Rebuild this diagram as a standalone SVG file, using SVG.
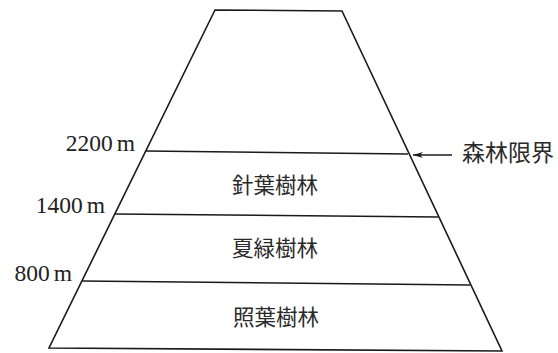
<svg xmlns="http://www.w3.org/2000/svg" width="558" height="353" viewBox="0 0 558 353">
<defs>
<style>
.ln{stroke:#1a1a1a;stroke-width:1.6;fill:none;stroke-linejoin:miter}
.alt{font-family:"Liberation Serif","DejaVu Serif",serif;font-size:23.5px;fill:#222;text-anchor:end}
.zone{font-family:"Noto Sans CJK JP","Noto Sans CJK SC",sans-serif;font-size:21.5px;fill:#2a2a2a;text-anchor:middle}
.note{font-family:"Noto Sans CJK JP","Noto Sans CJK SC",sans-serif;font-size:23px;fill:#2a2a2a}
</style>
<marker id="ah" viewBox="0 0 10 6" refX="10" refY="3" markerWidth="10" markerHeight="6" markerUnits="userSpaceOnUse" orient="auto">
<path d="M0,0 L10,3 L0,6 L3,3 Z" fill="#1a1a1a"/>
</marker>
</defs>
<rect width="558" height="353" fill="#fff"/>
<g id="mountain">
<path class="ln" d="M215,10 L342,11 L502,351 L49,348 Z"/>
</g>
<g id="connectors">
<line class="ln" x1="146" y1="151" x2="408" y2="154"/>
<line class="ln" x1="115" y1="214" x2="438" y2="217"/>
<line class="ln" x1="82" y1="281" x2="470" y2="285"/>
<line x1="452" y1="155" x2="413" y2="155" stroke="#1a1a1a" stroke-width="1.3" marker-end="url(#ah)"/>
</g>
<g id="alt-2200"><text class="alt" x="135" y="151">2200<tspan dx="4">m</tspan></text></g>
<g id="alt-1400"><text class="alt" x="105" y="213">1400<tspan dx="4">m</tspan></text></g>
<g id="alt-800"><text class="alt" x="72" y="281">800<tspan dx="4">m</tspan></text></g>
<g id="zone-conifer"><text class="zone" x="275" y="193">針葉樹林</text></g>
<g id="zone-deciduous"><text class="zone" x="275" y="256">夏緑樹林</text></g>
<g id="zone-evergreen"><text class="zone" x="276" y="325">照葉樹林</text></g>
<g id="treeline"><text class="note" x="462" y="161">森林限界</text></g>
</svg>
